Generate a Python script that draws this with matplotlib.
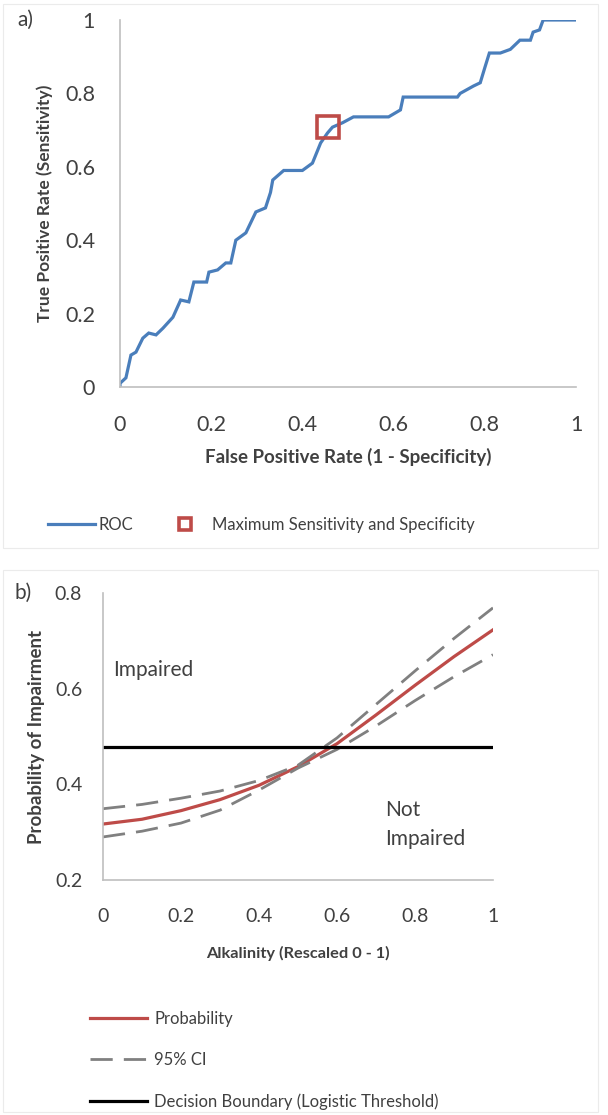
import matplotlib
matplotlib.use("Agg")
import matplotlib.pyplot as plt
from matplotlib.patches import Rectangle

plt.rcParams['font.family'] = ['Lato', 'DejaVu Sans']

# a) ROC curve
fpr = [0, 0, 0.013, 0.024, 0.035, 0.05, 0.063, 0.079, 0.094, 0.116, 0.133, 0.151, 0.162,
       0.19, 0.195, 0.214, 0.232, 0.243, 0.254, 0.276, 0.298, 0.319, 0.33, 0.335, 0.359,
       0.40, 0.422, 0.44, 0.455, 0.466, 0.488, 0.512, 0.589, 0.615, 0.621, 0.74, 0.746,
       0.775, 0.79, 0.80, 0.81, 0.834, 0.856, 0.877, 0.9, 0.906, 0.92, 0.928, 1.0]
tpr = [0, 0.01, 0.025, 0.087, 0.095, 0.133, 0.147, 0.142, 0.16, 0.19, 0.237, 0.232, 0.286,
       0.286, 0.313, 0.319, 0.338, 0.338, 0.40, 0.42, 0.477, 0.488, 0.53, 0.564, 0.59,
       0.59, 0.61, 0.665, 0.692, 0.708, 0.72, 0.736, 0.736, 0.755, 0.79, 0.79, 0.8,
       0.82, 0.829, 0.87, 0.91, 0.91, 0.92, 0.945, 0.945, 0.967, 0.973, 1.0, 1.0]
best_fpr = [0.457]
best_tpr = [0.709]

# b) logistic model vs alkalinity
alk = [0, 0.1, 0.2, 0.3, 0.4, 0.5, 0.6, 0.7, 0.8, 0.9, 1.0]
prob = [0.317, 0.327, 0.345, 0.368, 0.398, 0.437, 0.485, 0.545, 0.607, 0.667, 0.723]
ci_hi = [0.349, 0.358, 0.371, 0.386, 0.408, 0.440, 0.497, 0.567, 0.637, 0.705, 0.769]
ci_lo = [0.290, 0.302, 0.319, 0.346, 0.388, 0.434, 0.473, 0.522, 0.575, 0.625, 0.671]
threshold = 0.479

ticks_a = [0, 0.2, 0.4, 0.6, 0.8, 1]
ticks_b_x = [0, 0.2, 0.4, 0.6, 0.8, 1]
ticks_b_y = [0.2, 0.4, 0.6, 0.8]

blue = "#4A7EBB"
red = "#BE4B48"
grey = "#808080"
spine = "#BFBFBF"
txt = "#404040"

def fmt(v):
    return "%g" % v

fig = plt.figure(figsize=(6.08, 11.15), dpi=100)

# faint chart frames
fig.patches.append(Rectangle((0.005, 1 - 548/1115), 0.979, 548/1115 - 0.004,
                             transform=fig.transFigure, fill=False, ec="#EBEBEB", lw=0.8))
fig.patches.append(Rectangle((0.005, 0.003), 0.979, 1 - 570/1115 - 0.003,
                             transform=fig.transFigure, fill=False, ec="#EBEBEB", lw=0.8))

# ---- panel a ----
ax1 = fig.add_axes([120/608, 1 - 387/1115, 456/608, 367/1115])
ax1.plot(fpr, tpr, color=blue, lw=2.3, label="ROC", solid_joinstyle="miter")
ax1.plot(best_fpr, best_tpr, ls="none", marker="s", ms=16, mfc="none", mec=red, mew=2.6,
         label="Maximum Sensitivity and Specificity")
ax1.set_xlim(0, 1)
ax1.set_ylim(0, 1)
ax1.set_xticks(ticks_a)
ax1.set_yticks(ticks_a)
ax1.set_xticklabels([fmt(t) for t in ticks_a])
ax1.set_yticklabels([fmt(t) for t in ticks_a])
ax1.set_xlabel("False Positive Rate (1 - Specificity)", fontsize=13.5, fontweight="bold",
               color=txt, va="center")
ax1.set_ylabel("True Positive Rate (Sensitivity)", fontsize=12.5, fontweight="bold",
               color=txt, va="center")
ax1.xaxis.set_label_coords(0.5, (387 - 457) / 367)
ax1.yaxis.set_label_coords((45 - 120) / 456, 0.5)
ax1.tick_params(length=0, labelsize=15.5, labelcolor=txt)
ax1.tick_params(axis="y", pad=18)
ax1.tick_params(axis="x", pad=20)
fig.text(17/608, 1 - 20/1115, "a)", fontsize=15, color=txt, va="center")

# ---- panel b ----
ax2 = fig.add_axes([103/608, 1 - 880/1115, 390/608, 287/1115])
ax2.plot(alk, prob, color=red, lw=2.3, label="Probability")
ax2.plot(alk, ci_hi, color=grey, lw=2, dashes=(8, 4), label="95% CI")
ax2.plot(alk, ci_lo, color=grey, lw=2, dashes=(8, 4))
ax2.axhline(threshold, color="black", lw=2.3,
            label="Decision Boundary (Logistic Threshold)")
ax2.set_xlim(0, 1)
ax2.set_ylim(0.2, 0.8)
ax2.set_xticks(ticks_b_x)
ax2.set_yticks(ticks_b_y)
ax2.set_xticklabels([fmt(t) for t in ticks_b_x])
ax2.set_yticklabels([fmt(t) for t in ticks_b_y])
ax2.set_xlabel("Alkalinity (Rescaled 0 - 1)", fontsize=11.8, fontweight="bold",
               color=txt, va="center")
ax2.set_ylabel("Probability of Impairment", fontsize=13.5, fontweight="bold",
               color=txt, va="center")
ax2.xaxis.set_label_coords(0.5, (880 - 953) / 287)
ax2.yaxis.set_label_coords((37 - 103) / 390, 0.5)
ax2.tick_params(length=0, labelsize=14, labelcolor=txt)
ax2.tick_params(axis="y", pad=15)
ax2.tick_params(axis="x", pad=20)
ax2.text(0.026, 0.64, "Impaired", fontsize=15, color=txt, va="center")
ax2.text(0.723, 0.316, "Not\nImpaired", fontsize=15, color=txt, va="center",
         linespacing=1.55)
fig.text(15/608, 1 - 593/1115, "b)", fontsize=15, color=txt, va="center")

for ax in (ax1, ax2):
    for s in ("top", "right"):
        ax.spines[s].set_visible(False)
    for s in ("left", "bottom"):
        ax.spines[s].set_color(spine)
        ax.spines[s].set_linewidth(1.2)

leg1 = fig.legend(*ax1.get_legend_handles_labels(), loc="center left",
                  bbox_to_anchor=(33/608, 1 - 525/1115), ncol=2, frameon=False,
                  fontsize=12, markerscale=0.5, handlelength=2.8, columnspacing=1.75,
                  handletextpad=0.2)
for t in leg1.get_texts():
    t.set_color(txt)

leg2 = fig.legend(*ax2.get_legend_handles_labels(), loc="upper left",
                  bbox_to_anchor=(75/608, 1 - 996/1115), ncol=1, frameon=False,
                  fontsize=12, handlelength=3.4, handletextpad=0.45, labelspacing=1.5)
for t in leg2.get_texts():
    t.set_color(txt)

fig.savefig("out.png", dpi=100)
